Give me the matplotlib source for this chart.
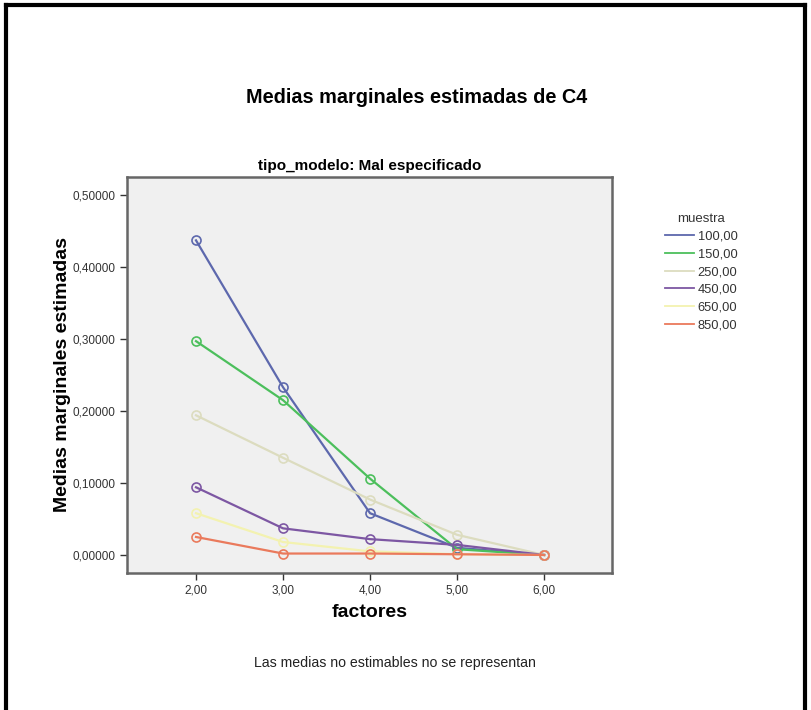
import matplotlib
matplotlib.use('Agg')
import matplotlib.pyplot as plt
from matplotlib.lines import Line2D

plt.rcParams['font.family'] = ['Liberation Sans', 'DejaVu Sans']

factores = [2, 3, 4, 5, 6]
muestra = ['100,00', '150,00', '250,00', '450,00', '650,00', '850,00']
m100 = [0.437, 0.233, 0.058, 0.010, 0.000]
m150 = [0.297, 0.215, 0.106, 0.008, 0.000]
m250 = [0.194, 0.135, 0.077, 0.028, 0.000]
m450 = [0.094, 0.037, 0.022, 0.014, 0.000]
m650 = [0.058, 0.018, 0.005, 0.001, 0.000]
m850 = [0.025, 0.002, 0.002, 0.001, 0.000]
series = [m100, m150, m250, m450, m650, m850]
colores = ['#5d68ad', '#4cbf5c', '#dcdcbf', '#7d57a3', '#f3f2b0', '#ea7a5c']

fig = plt.figure(figsize=(8.11, 7.10), dpi=100)
ax = fig.add_axes([0.1566, 0.193, 0.598, 0.5577])
ax.set_facecolor('#f0f0f0')

for vals, c in zip(series, colores):
    ax.plot(factores, vals, color=c, lw=1.6, marker='o', ms=6.5,
            markerfacecolor='none', markeredgecolor=c, markeredgewidth=1.2)

ax.set_xlim(1.207, 6.78)
ax.set_ylim(-0.025, 0.525)
ax.set_xticks(factores)
ax.set_xticklabels([('%.2f' % f).replace('.', ',') for f in factores])
yt = [0, 0.1, 0.2, 0.3, 0.4, 0.5]
ax.set_yticks(yt)
ax.set_yticklabels([('%.5f' % v).replace('.', ',') for v in yt])
ax.tick_params(labelsize=8.5, colors='#333333', length=5, width=1)
for s in ax.spines.values():
    s.set_color('#666666')
    s.set_linewidth(1.8)

ax.set_xlabel('factores', fontsize=14, fontweight='bold', labelpad=5)
ax.set_ylabel('Medias marginales estimadas', fontsize=14, fontweight='bold', labelpad=1)
ax.set_title('tipo_modelo: Mal especificado', fontsize=11, fontweight='bold', pad=5)

fig.text(0.514, 0.862, 'Medias marginales estimadas de C4', fontsize=14.3,
         ha='center', va='center', fontweight='bold')
fig.text(0.487, 0.066, 'Las medias no estimables no se representan', fontsize=10.2,
         ha='center', va='center', color='#222222')

# leyenda
handles = [Line2D([], [], color=c, lw=1.3) for c in colores]
leg = fig.legend(handles, muestra, title='muestra', loc='upper left',
                 bbox_to_anchor=(0.806, 0.717), frameon=False, fontsize=9.3,
                 title_fontsize=9.5, handlelength=2.2, handletextpad=0.3,
                 labelspacing=0.45)
for t in leg.get_texts():
    t.set_color('#333333')
leg.get_title().set_color('#333333')

# borde negro
fig.add_artist(Line2D([0.007, 0.993], [0.993, 0.993], color='black', lw=3))
fig.add_artist(Line2D([0.008, 0.008], [0.0, 0.993], color='black', lw=3))
fig.add_artist(Line2D([0.992, 0.992], [0.0, 0.993], color='black', lw=3))

fig.savefig('out.png', dpi=100)
